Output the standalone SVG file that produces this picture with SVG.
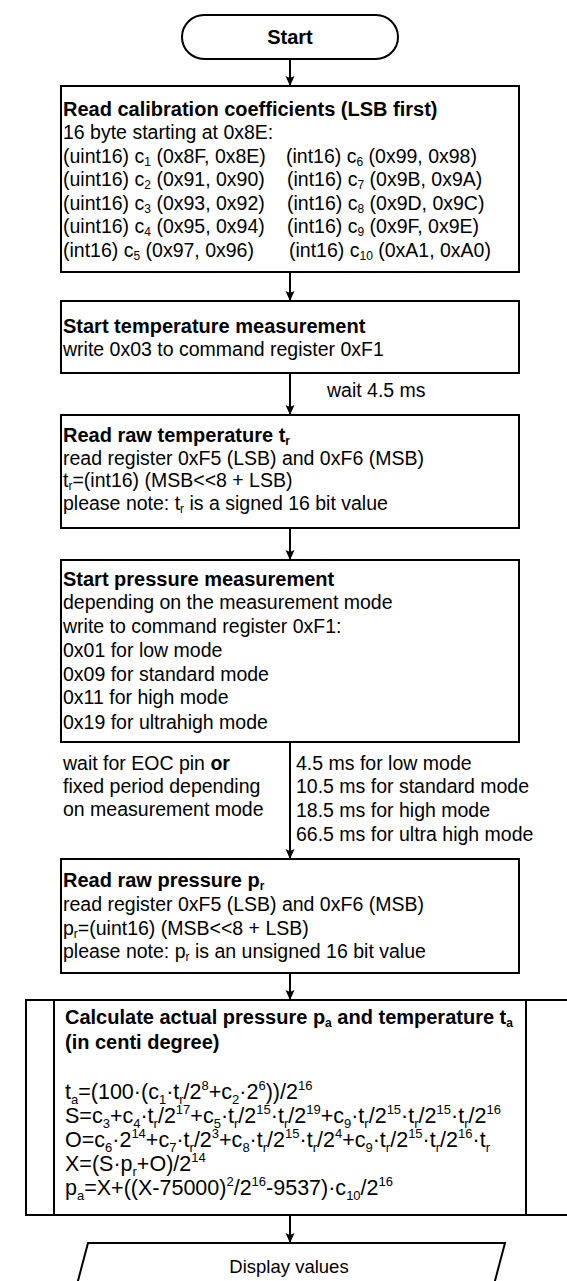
<svg xmlns="http://www.w3.org/2000/svg" width="567" height="1281" viewBox="0 0 567 1281">
<style>
.box{fill:#fff;stroke:#000;stroke-width:2}
.t{font-family:"Liberation Sans",Arial,sans-serif;font-size:19.5px;fill:#000}
.b{font-weight:bold;font-size:20px}
.sb{font-size:12px}
.f{font-size:21.5px}
.fs{font-size:13px}
.conn{stroke:#000;stroke-width:2;fill:none}
</style>
<defs>
<marker id="arr" markerUnits="userSpaceOnUse" markerWidth="10" markerHeight="10" refX="10" refY="5" orient="auto">
<path d="M0,0.5 L10,5 L0,9.5 L2,5 z" fill="#000"/>
</marker>
</defs>
<rect width="567" height="1281" fill="#fff"/>

<g id="connectors">
<line class="conn" x1="290" y1="59" x2="290" y2="86" marker-end="url(#arr)"/>
<line class="conn" x1="290" y1="272" x2="290" y2="301" marker-end="url(#arr)"/>
<line class="conn" x1="290" y1="373" x2="290" y2="415" marker-end="url(#arr)"/>
<line class="conn" x1="290" y1="528" x2="290" y2="560" marker-end="url(#arr)"/>
<line class="conn" x1="290" y1="742" x2="290" y2="859" marker-end="url(#arr)"/>
<line class="conn" x1="290" y1="973" x2="290" y2="1000" marker-end="url(#arr)"/>
<line class="conn" x1="290" y1="1215" x2="290" y2="1243" marker-end="url(#arr)"/>
<text class="t" x="327" y="397">wait 4.5 ms</text>
<text class="t" x="63" y="770">wait for EOC pin <tspan font-weight="bold">or</tspan></text>
<text class="t" x="63" y="793">fixed period depending</text>
<text class="t" x="63" y="816">on measurement mode</text>
<text class="t" x="296" y="770">4.5 ms for low mode</text>
<text class="t" x="296" y="793">10.5 ms for standard mode</text>
<text class="t" x="296" y="817">18.5 ms for high mode</text>
<text class="t" x="296" y="841">66.5 ms for ultra high mode</text>
</g>

<g id="start">
<rect class="box" x="182" y="15" width="216" height="44" rx="22" ry="22"/>
<text class="t b" x="290" y="44" text-anchor="middle">Start</text>
</g>

<g id="read-calibration">
<rect class="box" x="61" y="86" width="458" height="186"/>
<text class="t b" x="63" y="116">Read calibration coefficients (LSB first)</text>
<text class="t" x="63" y="139">16 byte starting at 0x8E:</text>
<text class="t" x="63" y="163">(uint16) c<tspan class="sb" dy="3">1</tspan><tspan dy="-3"> (0x8F, 0x8E)</tspan></text>
<text class="t" x="286" y="163">(int16) c<tspan class="sb" dy="3">6</tspan><tspan dy="-3"> (0x99, 0x98)</tspan></text>
<text class="t" x="63" y="186">(uint16) c<tspan class="sb" dy="3">2</tspan><tspan dy="-3"> (0x91, 0x90)</tspan></text>
<text class="t" x="287" y="186">(int16) c<tspan class="sb" dy="3">7</tspan><tspan dy="-3"> (0x9B, 0x9A)</tspan></text>
<text class="t" x="63" y="210">(uint16) c<tspan class="sb" dy="3">3</tspan><tspan dy="-3"> (0x93, 0x92)</tspan></text>
<text class="t" x="287" y="210">(int16) c<tspan class="sb" dy="3">8</tspan><tspan dy="-3"> (0x9D, 0x9C)</tspan></text>
<text class="t" x="63" y="233">(uint16) c<tspan class="sb" dy="3">4</tspan><tspan dy="-3"> (0x95, 0x94)</tspan></text>
<text class="t" x="287" y="233">(int16) c<tspan class="sb" dy="3">9</tspan><tspan dy="-3"> (0x9F, 0x9E)</tspan></text>
<text class="t" x="63" y="257">(int16) c<tspan class="sb" dy="3">5</tspan><tspan dy="-3"> (0x97, 0x96)</tspan></text>
<text class="t" x="289" y="257">(int16) c<tspan class="sb" dy="3">10</tspan><tspan dy="-3"> (0xA1, 0xA0)</tspan></text>
</g>

<g id="start-temperature">
<rect class="box" x="61" y="301" width="458" height="72"/>
<text class="t b" x="63" y="333">Start temperature measurement</text>
<text class="t" x="63" y="356">write 0x03 to command register 0xF1</text>
</g>

<g id="read-temperature">
<rect class="box" x="61" y="415" width="458" height="113"/>
<text class="t b" x="63" y="442">Read raw temperature t<tspan class="sb" dy="3">r</tspan></text>
<text class="t" x="63" y="465">read register 0xF5 (LSB) and 0xF6 (MSB)</text>
<text class="t" x="63" y="487">t<tspan class="sb" dy="3">r</tspan><tspan dy="-3">=(int16) (MSB&lt;&lt;8 + LSB)</tspan></text>
<text class="t" x="63" y="510">please note: t<tspan class="sb" dy="3">r</tspan><tspan dy="-3"> is a signed 16 bit value</tspan></text>
</g>

<g id="start-pressure">
<rect class="box" x="61" y="560" width="458" height="182"/>
<text class="t b" x="63" y="586">Start pressure measurement</text>
<text class="t" x="63" y="609">depending on the measurement mode</text>
<text class="t" x="63" y="633">write to command register 0xF1:</text>
<text class="t" x="63" y="657">0x01 for low mode</text>
<text class="t" x="63" y="681">0x09 for standard mode</text>
<text class="t" x="63" y="704">0x11 for high mode</text>
<text class="t" x="63" y="729">0x19 for ultrahigh mode</text>
</g>

<g id="read-pressure">
<rect class="box" x="61" y="859" width="458" height="114"/>
<text class="t b" x="63" y="887">Read raw pressure p<tspan class="sb" dy="3">r</tspan></text>
<text class="t" x="63" y="911">read register 0xF5 (LSB) and 0xF6 (MSB)</text>
<text class="t" x="63" y="935">p<tspan class="sb" dy="3">r</tspan><tspan dy="-3">=(uint16) (MSB&lt;&lt;8 + LSB)</tspan></text>
<text class="t" x="63" y="958">please note: p<tspan class="sb" dy="3">r</tspan><tspan dy="-3"> is an unsigned 16 bit value</tspan></text>
</g>

<g id="calculate">
<rect class="box" x="26" y="1000" width="570" height="215"/>
<line class="conn" x1="54" y1="1000" x2="54" y2="1215"/>
<line class="conn" x1="526" y1="1000" x2="526" y2="1215"/>
<text class="t b" x="65" y="1024">Calculate actual pressure p<tspan class="sb" dy="3">a</tspan><tspan dy="-3"> and temperature t</tspan><tspan class="sb" dy="3">a</tspan></text>
<text class="t b" x="65" y="1049">(in centi degree)</text>
<text class="t f" x="65" y="1099">t<tspan class="fs" dy="5">a</tspan><tspan dy="-5">=(100·(c</tspan><tspan class="fs" dy="5">1</tspan><tspan dy="-5">·t</tspan><tspan class="fs" dy="5">r</tspan><tspan dy="-5">/2</tspan><tspan class="fs" dy="-9">8</tspan><tspan dy="9">+c</tspan><tspan class="fs" dy="5">2</tspan><tspan dy="-5">·2</tspan><tspan class="fs" dy="-9">6</tspan><tspan dy="9">))/2</tspan><tspan class="fs" dy="-9">16</tspan></text>
<text class="t f" x="65" y="1123">S=c<tspan class="fs" dy="5">3</tspan><tspan dy="-5">+c</tspan><tspan class="fs" dy="5">4</tspan><tspan dy="-5">·t</tspan><tspan class="fs" dy="5">r</tspan><tspan dy="-5">/2</tspan><tspan class="fs" dy="-9">17</tspan><tspan dy="9">+c</tspan><tspan class="fs" dy="5">5</tspan><tspan dy="-5">·t</tspan><tspan class="fs" dy="5">r</tspan><tspan dy="-5">/2</tspan><tspan class="fs" dy="-9">15</tspan><tspan dy="9">·t</tspan><tspan class="fs" dy="5">r</tspan><tspan dy="-5">/2</tspan><tspan class="fs" dy="-9">19</tspan><tspan dy="9">+c</tspan><tspan class="fs" dy="5">9</tspan><tspan dy="-5">·t</tspan><tspan class="fs" dy="5">r</tspan><tspan dy="-5">/2</tspan><tspan class="fs" dy="-9">15</tspan><tspan dy="9">·t</tspan><tspan class="fs" dy="5">r</tspan><tspan dy="-5">/2</tspan><tspan class="fs" dy="-9">15</tspan><tspan dy="9">·t</tspan><tspan class="fs" dy="5">r</tspan><tspan dy="-5">/2</tspan><tspan class="fs" dy="-9">16</tspan></text>
<text class="t f" x="65" y="1147">O=c<tspan class="fs" dy="5">6</tspan><tspan dy="-5">·2</tspan><tspan class="fs" dy="-9">14</tspan><tspan dy="9">+c</tspan><tspan class="fs" dy="5">7</tspan><tspan dy="-5">·t</tspan><tspan class="fs" dy="5">r</tspan><tspan dy="-5">/2</tspan><tspan class="fs" dy="-9">3</tspan><tspan dy="9">+c</tspan><tspan class="fs" dy="5">8</tspan><tspan dy="-5">·t</tspan><tspan class="fs" dy="5">r</tspan><tspan dy="-5">/2</tspan><tspan class="fs" dy="-9">15</tspan><tspan dy="9">·t</tspan><tspan class="fs" dy="5">r</tspan><tspan dy="-5">/2</tspan><tspan class="fs" dy="-9">4</tspan><tspan dy="9">+c</tspan><tspan class="fs" dy="5">9</tspan><tspan dy="-5">·t</tspan><tspan class="fs" dy="5">r</tspan><tspan dy="-5">/2</tspan><tspan class="fs" dy="-9">15</tspan><tspan dy="9">·t</tspan><tspan class="fs" dy="5">r</tspan><tspan dy="-5">/2</tspan><tspan class="fs" dy="-9">16</tspan><tspan dy="9">·t</tspan><tspan class="fs" dy="5">r</tspan></text>
<text class="t f" x="65" y="1171">X=(S·p<tspan class="fs" dy="5">r</tspan><tspan dy="-5">+O)/2</tspan><tspan class="fs" dy="-9">14</tspan></text>
<text class="t f" x="65" y="1195">p<tspan class="fs" dy="5">a</tspan><tspan dy="-5">=X+((X-75000)</tspan><tspan class="fs" dy="-9">2</tspan><tspan dy="9">/2</tspan><tspan class="fs" dy="-9">16</tspan><tspan dy="9">-9537)·c</tspan><tspan class="fs" dy="5">10</tspan><tspan dy="-5">/2</tspan><tspan class="fs" dy="-9">16</tspan></text>
</g>

<g id="display">
<polygon class="box" points="88,1243 505,1243 492,1292 75,1292"/>
<text class="t" x="289" y="1273" text-anchor="middle" style="font-size:18.5px">Display values</text>
</g>
</svg>
